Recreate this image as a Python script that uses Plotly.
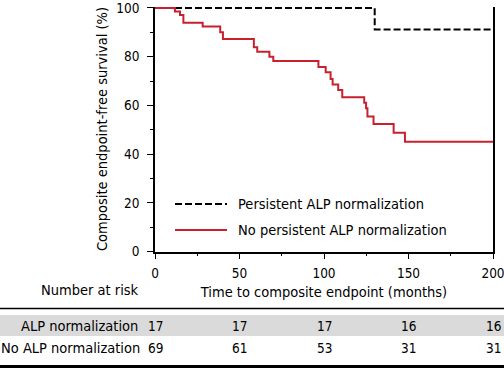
import plotly.graph_objects as go

# ---- data ----
red_t = [0, 11.8, 14.8, 16.8, 28.2, 38.6, 40.2, 58.5, 60.5, 67.7, 70.0, 96.7, 101.0,
         103.9, 105.1, 108.4, 110.8, 123.8, 124.9, 125.7, 129.3, 141.2, 147.9, 200]
red_s = [100, 98.5, 97.1, 93.9, 92.4, 90.0, 87.3, 83.9, 82.0, 80.0, 78.2, 75.8, 73.6,
         70.8, 68.6, 66.3, 63.3, 61.1, 58.8, 55.4, 52.4, 48.8, 45.1, 45.1]
blk_t = [0, 130, 200]
blk_s = [100, 91.2, 91.2]

risk_times = [0, 50, 100, 150, 200]
risk_alp = [17, 17, 17, 16, 16]
risk_noalp = [69, 61, 53, 31, 31]
row_labels = ["ALP normalization", "No ALP normalization"]
legend_labels = ["Persistent ALP normalization", "No persistent ALP normalization"]

W, H = 504, 368
FONT = "DejaVu Sans Condensed, Liberation Sans, sans-serif"
TXT = 14.5
NUM = 13.5
RED = "#c8202f"


def py(p):
    return 1 - p / H


def px(p):
    return p / W


fig = go.Figure()
fig.add_trace(go.Scatter(x=blk_t, y=blk_s, mode="lines", line_shape="hv",
                         line=dict(color="black", width=2, dash="7px,3px"),
                         name=legend_labels[0], showlegend=False))
fig.add_trace(go.Scatter(x=red_t, y=red_s, mode="lines", line_shape="hv",
                         line=dict(color=RED, width=2),
                         name=legend_labels[1], showlegend=False))

fig.update_layout(
    width=W, height=H, margin=dict(l=0, r=0, t=0, b=0, autoexpand=False),
    paper_bgcolor="white", plot_bgcolor="white",
    font=dict(family=FONT, size=TXT, color="black"),
    xaxis=dict(domain=[px(155), px(493)], range=[0, 200], showgrid=False, zeroline=False,
               automargin=False, ticklabeloverflow="allow",
               showline=True, linecolor="black", linewidth=1.5,
               ticks="outside", ticklen=6, tickwidth=1.2, tickcolor="black",
               tickvals=risk_times, ticklabelstandoff=3, tickfont=dict(size=NUM),
               minor=dict(ticks="outside", ticklen=3, tickwidth=1, dtick=25, tick0=0, tickcolor="black"),
               title=dict(text="Time to composite endpoint (months)", standoff=6,
                          font=dict(size=TXT))),
    yaxis=dict(domain=[py(251.5), py(6.5)], range=[0, 100.6], showgrid=False, zeroline=False,
               automargin=False, ticklabeloverflow="allow",
               showline=True, linecolor="black", linewidth=1.5, mirror=True,
               ticks="outside", ticklen=6, tickwidth=1.2, tickcolor="black",
               tickvals=[0, 20, 40, 60, 80, 100], ticklabelstandoff=5, tickfont=dict(size=NUM),
               minor=dict(ticks="outside", ticklen=3, tickwidth=1, dtick=10, tick0=0, tickcolor="black"),
               title=dict(text="Composite endpoint-free survival (%)", standoff=5,
                          font=dict(size=TXT))),
)

shapes = []
# legend samples
shapes.append(dict(type="line", xref="paper", yref="paper", x0=px(175), x1=px(227),
                   y0=py(204), y1=py(204), line=dict(color="black", width=2, dash="7px,3px")))
shapes.append(dict(type="line", xref="paper", yref="paper", x0=px(175), x1=px(227),
                   y0=py(230), y1=py(230), line=dict(color=RED, width=2)))
# table separators
shapes.append(dict(type="line", xref="paper", yref="paper", x0=0, x1=1,
                   y0=py(308.5), y1=py(308.5), line=dict(color="black", width=1.5)))
shapes.append(dict(type="rect", xref="paper", yref="paper", x0=0, x1=1,
                   y0=py(336), y1=py(315), fillcolor="#dadada", line=dict(width=0), layer="below"))
shapes.append(dict(type="rect", xref="paper", yref="paper", x0=0, x1=1,
                   y0=py(368), y1=py(365), fillcolor="black", line=dict(width=0)))
fig.update_layout(shapes=shapes)

ann = []
ann.append(dict(text=legend_labels[0], xref="paper", yref="paper", x=px(236), y=py(204),
                xanchor="left", yanchor="middle", showarrow=False))
ann.append(dict(text=legend_labels[1], xref="paper", yref="paper", x=px(236), y=py(230),
                xanchor="left", yanchor="middle", showarrow=False))
ann.append(dict(text="Number at risk", xref="paper", yref="paper", x=px(141), y=py(290),
                xanchor="right", yanchor="middle", showarrow=False))
ann.append(dict(text=row_labels[0], xref="paper", yref="paper", x=px(140), y=py(326),
                xanchor="right", yanchor="middle", showarrow=False))
ann.append(dict(text=row_labels[1], xref="paper", yref="paper", x=px(142), y=py(348),
                xanchor="right", yanchor="middle", showarrow=False))
for t, a, b in zip(risk_times, risk_alp, risk_noalp):
    ann.append(dict(text=str(a), xref="x", yref="paper", x=t, y=py(326),
                    xanchor="center", yanchor="middle", showarrow=False,
                    font=dict(size=NUM)))
    ann.append(dict(text=str(b), xref="x", yref="paper", x=t, y=py(348),
                    xanchor="center", yanchor="middle", showarrow=False,
                    font=dict(size=NUM)))
fig.update_layout(annotations=ann)

fig.write_html("out.html", config={"displayModeBar": False},
               post_script="document.body.style.margin='0';document.body.style.overflow='hidden';")
